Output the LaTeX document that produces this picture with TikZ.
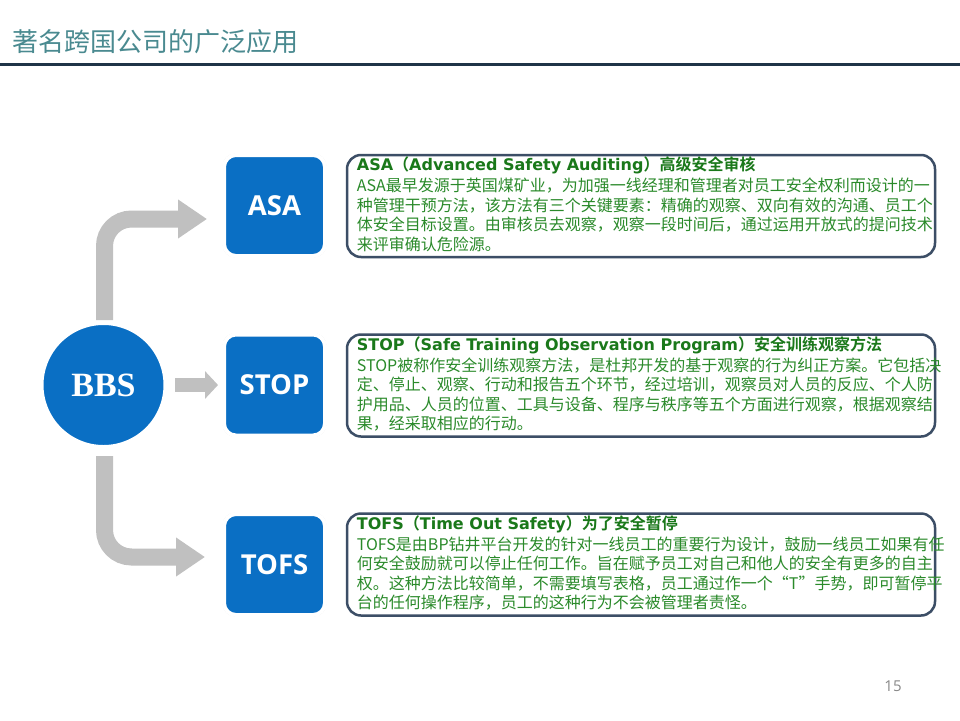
\documentclass[tikz,border=0pt]{standalone}
\usepackage{fontspec}
\setmainfont{Liberation Sans}
\newfontfamily\cjk{Noto Sans CJK SC}[BoldFont={Noto Sans CJK SC Bold}]
\newfontfamily\lab{Open Sans}
\newfontfamily\bbsfont{Liberation Serif}
\newfontfamily\headfont{DejaVu Sans}
\usetikzlibrary{arrows.meta,shadows,calc}
\definecolor{titlec}{RGB}{74,138,144}
\definecolor{rulec}{RGB}{31,52,71}
\definecolor{bluec}{RGB}{10,111,196}
\definecolor{arrowc}{RGB}{192,192,192}
\definecolor{framec}{RGB}{60,78,102}
\definecolor{headc}{RGB}{26,120,26}
\definecolor{bodyc}{RGB}{42,138,42}
\definecolor{numc}{RGB}{136,136,136}
\tikzset{
  bluebox/.style={draw=white, line width=4pt, fill=bluec, rounded corners=12pt,
    minimum width=101pt, minimum height=101pt, inner sep=0pt, text=white,
    font=\lab\bfseries\fontsize{27.5}{30}\selectfont,
    general shadow={fill=black!25, shadow scale=1.025}},
  bbsnode/.style={circle, draw=white, line width=5pt, fill=bluec, minimum size=125pt,
    inner sep=0pt, text=white, font=\bbsfont\bfseries\fontsize{34}{36}\selectfont,
    general shadow={fill=black!25, shadow scale=1.02}},
  textbox/.style={draw=framec, line width=2.5pt, rounded corners=14pt, fill=white,
    minimum width=588pt, minimum height=102pt,
    drop shadow={shadow xshift=1pt, shadow yshift=-1pt, opacity=0.2, fill=black!60}},
  bodytext/.style={anchor=base west, align=left, inner sep=0pt, text=bodyc,
    font=\cjk\fontsize{16}{19.5}\selectfont},
  bigarrow/.style={draw=arrowc, line width=17pt, rounded corners=27pt,
    -{Triangle[length=29pt,width=37pt]}},
  midarrow/.style={draw=arrowc, line width=14pt, -{Triangle[length=13pt,width=27pt]}},
}
\newcommand{\headline}[3]{{\color{headc}{\headfont\bfseries\fontsize{16}{19}\selectfont #1}{\cjk\bfseries\fontsize{16}{19}\selectfont （}{\headfont\bfseries\fontsize{16}{19}\selectfont #2}{\cjk\bfseries\fontsize{16}{19}\selectfont ）#3}}}
\begin{document}
\begin{tikzpicture}[x=1pt,y=-1pt]
\useasboundingbox (0,0) rectangle (960,720);
\fill[white] (0,0) rectangle (960,720);

% title
\node[anchor=west, inner sep=0pt, text=titlec, font=\cjk\fontsize{26}{30}\selectfont] (title) at (12,42) {著名跨国公司的广泛应用};
\draw[rulec, line width=3.5pt] (0,64.5) -- (960,64.5);

% left nodes
\node[bbsnode] (bbs) at (103.5,385) {BBS};
\node[bluebox] (asa) at (274.5,205.5) {ASA};
\node[bluebox] (stop) at (274.5,385) {STOP};
\node[bluebox] (tofs) at (274.5,564.5) {TOFS};

% connectors
\draw[bigarrow] ($(bbs.north)+(1,0)$) |- ($(asa.west)+(-15,13.5)$);
\draw[midarrow] ($(bbs.east)+(6.5,0)$) -- ($(stop.west)+(-4,0)$);
\draw[bigarrow] ($(bbs.south)+(1,6)$) |- ($(tofs.west)+(-17,-7.5)$);

% text boxes
\node[textbox] (asabox) at (641,206) {};
\node[textbox] (stopbox) at (641,385.5) {};
\node[textbox] (tofsbox) at (641,564.5) {};

\node[bodytext] (asatext) at ($(asabox.north west)+(11,96.5)$) {%
\headline{ASA}{Advanced Safety Auditing}{高级安全审核}\\[1.5pt]
ASA最早发源于英国煤矿业，为加强一线经理和管理者对员工安全权利而设计的一\\
种管理干预方法，该方法有三个关键要素：精确的观察、双向有效的沟通、员工个\\
体安全目标设置。由审核员去观察，观察一段时间后，通过运用开放式的提问技术\\
来评审确认危险源。};

\node[bodytext] (stoptext) at ($(stopbox.north west)+(11,96.5)$) {%
\headline{STOP}{Safe Training Observation Program}{安全训练观察方法}\\[1.5pt]
STOP被称作安全训练观察方法，是杜邦开发的基于观察的行为纠正方案。它包括决\\
定、停止、观察、行动和报告五个环节，经过培训，观察员对人员的反应、个人防\\
护用品、人员的位置、工具与设备、程序与秩序等五个方面进行观察，根据观察结\\
果，经采取相应的行动。};

\node[bodytext] (tofstext) at ($(tofsbox.north west)+(11,96.5)$) {%
\headline{TOFS}{Time Out Safety}{为了安全暂停}\\[1.5pt]
TOFS是由BP钻井平台开发的针对一线员工的重要行为设计，鼓励一线员工如果有任\\
何安全鼓励就可以停止任何工作。旨在赋予员工对自己和他人的安全有更多的自主\\
权。这种方法比较简单，不需要填写表格，员工通过作一个“T”手势，即可暂停平\\
台的任何操作程序，员工的这种行为不会被管理者责怪。};

% page number
\node[inner sep=0pt, text=numc, font=\lab\fontsize{15}{18}\selectfont] (page) at (893,686) {15};
\end{tikzpicture}
\end{document}
